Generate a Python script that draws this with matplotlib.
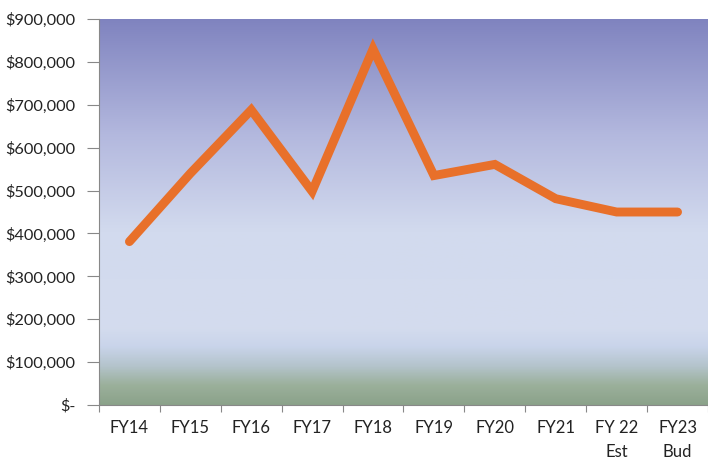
import numpy as np
import matplotlib
matplotlib.use("Agg")
import matplotlib.pyplot as plt
from matplotlib.colors import LinearSegmentedColormap
from matplotlib.ticker import FuncFormatter

# data
years = ["FY14", "FY15", "FY16", "FY17", "FY18", "FY19", "FY20", "FY21", "FY 22\nEst", "FY23\nBud"]
amounts = [381000, 540000, 688000, 498000, 830000, 535000, 561000, 481000, 450000, 450000]
y_ticks = [0, 100000, 200000, 300000, 400000, 500000, 600000, 700000, 800000, 900000]

plt.rcParams['font.family'] = ['Lato', 'DejaVu Sans']

fig = plt.figure(figsize=(7.08, 4.59), dpi=100)
ax = fig.add_axes([0.1398, 0.1176, 0.8602, 0.841])

# background gradient (bottom -> top)
grad = LinearSegmentedColormap.from_list("bg", [
    (0.00, "#8ba28a"),
    (0.05, "#9bb09b"),
    (0.10, "#b4c4cc"),
    (0.15, "#c9d4ea"),
    (0.20, "#d4dcee"),
    (0.45, "#d2daee"),
    (0.70, "#b3b8de"),
    (1.00, "#7f83bf"),
])
ax.imshow(np.linspace(0, 1, 256).reshape(-1, 1), cmap=grad, aspect="auto",
          origin="lower", extent=[0, 1, 0, 1], transform=ax.transAxes, zorder=0)

x = np.arange(len(years))
ax.plot(x, amounts, color="#e8702a", lw=6.4, solid_capstyle="round",
        solid_joinstyle="miter", zorder=3)

ax.set_xlim(-0.5, len(years) - 0.5)
ax.set_ylim(0, 900000)
ax.set_yticks(y_ticks)
ax.yaxis.set_major_formatter(FuncFormatter(lambda v, p: "$-" if v == 0 else f"${v:,.0f}"))

ax.set_xticks(np.arange(-0.5, len(years), 1.0))
ax.set_xticklabels([])
ax.set_xticks(x, minor=True)
ax.set_xticklabels(years, minor=True, linespacing=1.6)
ax.tick_params(axis="x", which="minor", length=0, pad=11, labelsize=12, colors="#222222")
ax.tick_params(axis="x", which="major", length=5, color="#888888", direction="out")
ax.tick_params(axis="y", length=9, color="#888888", labelsize=11.8, pad=8, labelcolor="#222222")

for s in ["top", "right"]:
    ax.spines[s].set_visible(False)
for s in ["left", "bottom"]:
    ax.spines[s].set_color("#888888")
    ax.spines[s].set_linewidth(0.8)

fig.savefig("out.png", dpi=100)
